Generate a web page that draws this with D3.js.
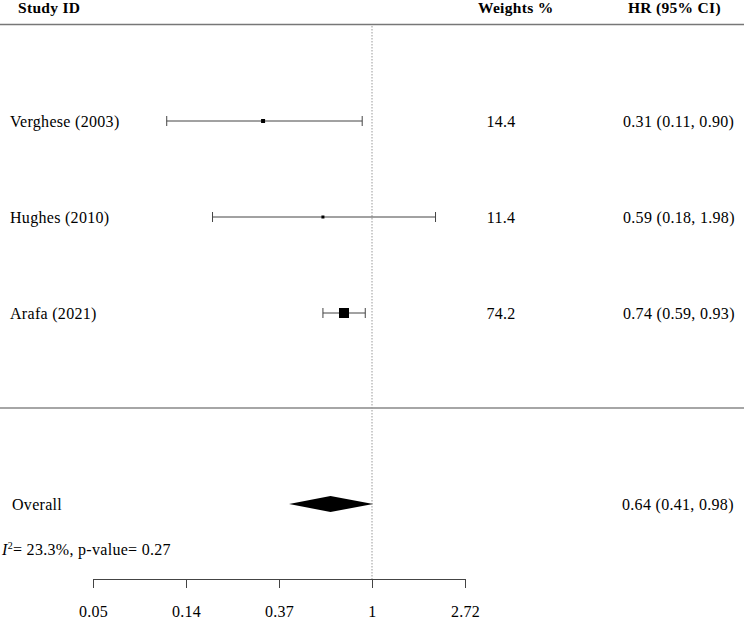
<!DOCTYPE html>
<html>
<head>
<meta charset="utf-8">
<script src="https://cdn.jsdelivr.net/npm/d3@7"></script>
<style>
  body { margin: 0; background: #fff; }
  svg { display: block; }
</style>
</head>
<body>
<script>
// study data
const studies = ["Verghese (2003)", "Hughes (2010)", "Arafa (2021)"];
const hr = [0.31, 0.59, 0.74];
const lower = [0.11, 0.18, 0.59];
const upper = [0.90, 1.98, 0.93];
const weights = ["14.4", "11.4", "74.2"];
const hrText = ["0.31 (0.11, 0.90)", "0.59 (0.18, 1.98)", "0.74 (0.59, 0.93)"];
const boxSize = [4, 3, 10];

const overall = {hr: 0.64, lo: 0.41, hi: 0.98, text: "0.64 (0.41, 0.98)"};
const tickValues = [Math.exp(-3), Math.exp(-2), Math.exp(-1), 1, Math.exp(1)];
const tickLabels = ["0.05", "0.14", "0.37", "1", "2.72"];

const width = 744, height = 620;
const font = "'Liberation Serif', 'Times New Roman', serif";
const fs = "16px";

const svg = d3.select("body").append("svg")
    .attr("width", width)
    .attr("height", height)
    .style("font-family", font)
    .style("letter-spacing", "0.3px");

const x = d3.scaleLog()
    .domain([Math.exp(-3), Math.exp(1)])
    .range([93, 465]);

const y = d3.scalePoint()
    .domain(studies)
    .range([121, 313]);

const overallY = 504;

// header
const header = svg.append("g").style("font-weight", "bold").style("font-size", "15.5px");
header.append("text").attr("x", 18).attr("y", 13).text("Study ID");
header.append("text").attr("x", 478).attr("y", 13).text("Weights %");
header.append("text").attr("x", 628).attr("y", 13).text("HR (95% CI)");

// divider lines
svg.append("line").attr("x1", 0).attr("x2", width).attr("y1", 24.5).attr("y2", 24.5)
    .attr("stroke", "#777").attr("stroke-width", 1.5);
svg.append("line").attr("x1", 0).attr("x2", width).attr("y1", 408).attr("y2", 408)
    .attr("stroke", "#888").attr("stroke-width", 1.5);

// null line
svg.append("line")
    .attr("x1", x(1)).attr("x2", x(1))
    .attr("y1", 26).attr("y2", 579)
    .attr("stroke", "#999")
    .attr("stroke-width", 1)
    .attr("stroke-dasharray", "1.5,1.5");

// study rows
const rows = svg.append("g").selectAll("g")
    .data(studies)
    .join("g")
    .attr("transform", d => `translate(0,${y(d)})`);

rows.append("text")
    .attr("x", 10).attr("dy", "0.35em")
    .style("font-size", fs)
    .text(d => d);

rows.append("line")
    .attr("x1", (d, i) => x(lower[i])).attr("x2", (d, i) => x(upper[i]))
    .attr("stroke", "#444").attr("stroke-width", 1);
rows.append("line")
    .attr("x1", (d, i) => x(lower[i])).attr("x2", (d, i) => x(lower[i]))
    .attr("y1", -5).attr("y2", 5)
    .attr("stroke", "#444").attr("stroke-width", 1);
rows.append("line")
    .attr("x1", (d, i) => x(upper[i])).attr("x2", (d, i) => x(upper[i]))
    .attr("y1", -5).attr("y2", 5)
    .attr("stroke", "#444").attr("stroke-width", 1);
rows.append("rect")
    .attr("x", (d, i) => x(hr[i]) - boxSize[i] / 2)
    .attr("y", (d, i) => -boxSize[i] / 2)
    .attr("width", (d, i) => boxSize[i])
    .attr("height", (d, i) => boxSize[i])
    .attr("fill", "#000");

rows.append("text")
    .attr("x", 501).attr("dy", "0.35em")
    .attr("text-anchor", "middle")
    .style("font-size", fs)
    .text((d, i) => weights[i]);

rows.append("text")
    .attr("x", 623).attr("dy", "0.35em")
    .style("font-size", fs)
    .text((d, i) => hrText[i]);

// overall
svg.append("text")
    .attr("x", 12).attr("y", overallY).attr("dy", "0.35em")
    .style("font-size", fs)
    .text("Overall");

svg.append("path")
    .attr("d", `M${x(overall.lo)},${overallY} L${x(overall.hr)},${overallY - 8} L${x(overall.hi) + 3},${overallY} L${x(overall.hr)},${overallY + 8} Z`)
    .attr("fill", "#000");

svg.append("text")
    .attr("x", 622).attr("y", overallY).attr("dy", "0.35em")
    .style("font-size", fs)
    .text(overall.text);

// heterogeneity
const het = svg.append("text")
    .attr("x", 2).attr("y", 549).attr("dy", "0.35em")
    .style("font-size", fs);
het.append("tspan").style("font-style", "italic").text("I");
het.append("tspan").attr("dy", "-6").style("font-size", "10px").text("2");
het.append("tspan").attr("dy", "6").text("= 23.3%, p-value= 0.27");

// axis
const axis = svg.append("g")
    .attr("transform", "translate(0,579)")
    .call(d3.axisBottom(x)
        .tickValues(tickValues)
        .tickFormat((d, i) => tickLabels[i])
        .tickSize(9)
        .tickPadding(0));
axis.select(".domain").attr("stroke", "#444");
axis.selectAll(".tick line").attr("stroke", "#444");
axis.selectAll(".tick text")
    .attr("y", 38)
    .attr("dy", null)
    .style("font-family", font)
    .style("font-size", fs)
    .attr("fill", "#000");
</script>
</body>
</html>
